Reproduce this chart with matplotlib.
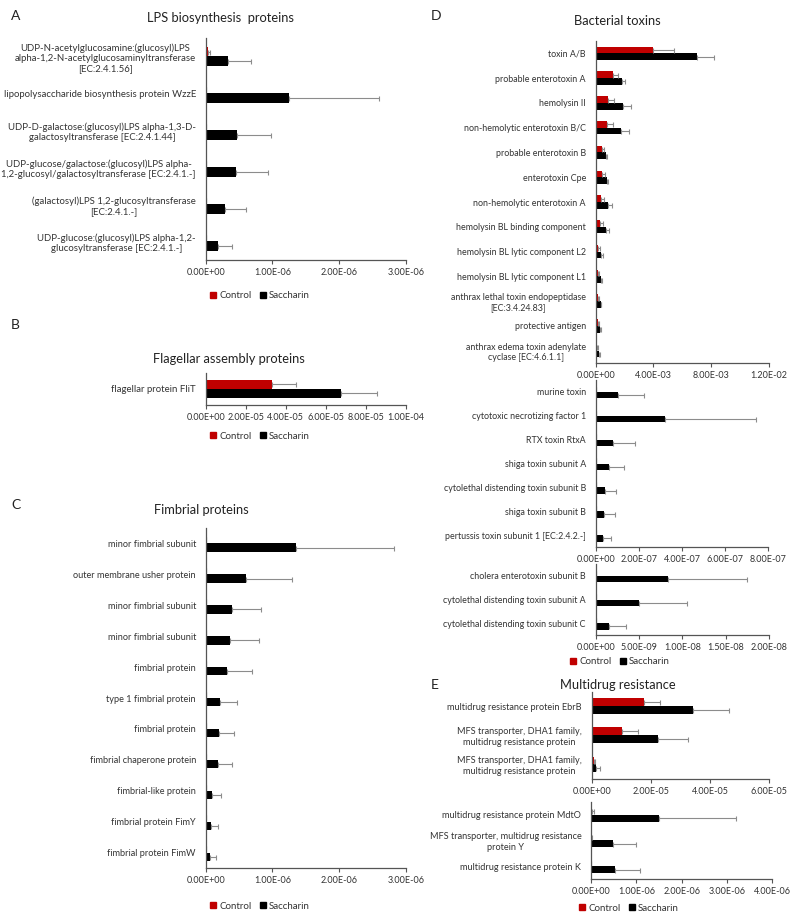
import matplotlib.pyplot as plt
from matplotlib.ticker import FuncFormatter
from matplotlib.patches import Patch
import numpy as np

plt.rcParams['font.family'] = ['Lato', 'DejaVu Sans']

# ---- data ----
lps_labels = [
    "UDP-N-acetylglucosamine:(glucosyl)LPS\nalpha-1,2-N-acetylglucosaminyltransferase\n[EC:2.4.1.56]",
    "lipopolysaccharide biosynthesis protein WzzE",
    "UDP-D-galactose:(glucosyl)LPS alpha-1,3-D-\ngalactosyltransferase [EC:2.4.1.44]",
    "UDP-glucose/galactose:(glucosyl)LPS alpha-\n1,2-glucosyl/galactosyltransferase [EC:2.4.1.-]",
    "(galactosyl)LPS 1,2-glucosyltransferase\n[EC:2.4.1.-]",
    "UDP-glucose:(glucosyl)LPS alpha-1,2-\nglucosyltransferase [EC:2.4.1.-]",
]
lps_ctrl = [0.04e-6, 0, 0, 0, 0, 0]
lps_ctrl_err = [0.02e-6, 0, 0, 0, 0, 0]
lps_sac = [0.33e-6, 1.25e-6, 0.47e-6, 0.45e-6, 0.29e-6, 0.19e-6]
lps_sac_err = [0.35e-6, 1.35e-6, 0.51e-6, 0.48e-6, 0.31e-6, 0.21e-6]

fla_labels = ["flagellar protein FliT"]
fla_ctrl = [3.3e-5]
fla_ctrl_err = [1.2e-5]
fla_sac = [6.75e-5]
fla_sac_err = [1.82e-5]

fim_labels = [
    "minor fimbrial subunit", "outer membrane usher protein", "minor fimbrial subunit",
    "minor fimbrial subunit", "fimbrial protein", "type 1 fimbrial protein",
    "fimbrial protein", "fimbrial chaperone protein", "fimbrial-like protein",
    "fimbrial protein FimY", "fimbrial protein FimW",
]
fim_ctrl = [0] * 11
fim_ctrl_err = [0] * 11
fim_sac = [1.35e-6, 0.61e-6, 0.40e-6, 0.37e-6, 0.32e-6, 0.22e-6, 0.20e-6, 0.18e-6, 0.10e-6, 0.08e-6, 0.06e-6]
fim_sac_err = [1.47e-6, 0.68e-6, 0.43e-6, 0.43e-6, 0.37e-6, 0.25e-6, 0.23e-6, 0.22e-6, 0.13e-6, 0.10e-6, 0.09e-6]

tox1_labels = [
    "toxin A/B", "probable enterotoxin A", "hemolysin II", "non-hemolytic enterotoxin B/C",
    "probable enterotoxin B", "enterotoxin Cpe", "non-hemolytic enterotoxin A",
    "hemolysin BL binding component", "hemolysin BL lytic component L2",
    "hemolysin BL lytic component L1", "anthrax lethal toxin endopeptidase\n[EC:3.4.24.83]",
    "protective antigen", "anthrax edema toxin adenylate\ncyclase [EC:4.6.1.1]",
]
tox1_ctrl = [3.95e-3, 1.18e-3, 0.83e-3, 0.76e-3, 0.42e-3, 0.44e-3, 0.37e-3, 0.30e-3, 0.18e-3, 0.14e-3, 0.16e-3, 0.14e-3, 0.10e-3]
tox1_ctrl_err = [1.48e-3, 0.39e-3, 0.46e-3, 0.46e-3, 0.16e-3, 0.21e-3, 0.18e-3, 0.18e-3, 0.10e-3, 0.09e-3, 0.06e-3, 0.06e-3, 0.04e-3]
tox1_sac = [7.02e-3, 1.82e-3, 1.87e-3, 1.73e-3, 0.71e-3, 0.76e-3, 0.83e-3, 0.69e-3, 0.37e-3, 0.35e-3, 0.35e-3, 0.30e-3, 0.25e-3]
tox1_sac_err = [1.18e-3, 0.21e-3, 0.56e-3, 0.56e-3, 0.09e-3, 0.09e-3, 0.28e-3, 0.23e-3, 0.11e-3, 0.09e-3, 0.05e-3, 0.05e-3, 0.05e-3]

tox2_labels = [
    "murine toxin", "cytotoxic necrotizing factor 1", "RTX toxin RtxA", "shiga toxin subunit A",
    "cytolethal distending toxin subunit B", "shiga toxin subunit B",
    "pertussis toxin subunit 1 [EC:2.4.2.-]",
]
tox2_ctrl = [0] * 7
tox2_ctrl_err = [0] * 7
tox2_sac = [1.05e-7, 3.21e-7, 0.82e-7, 0.62e-7, 0.43e-7, 0.40e-7, 0.32e-7]
tox2_sac_err = [1.20e-7, 4.21e-7, 1.00e-7, 0.70e-7, 0.51e-7, 0.49e-7, 0.40e-7]

tox3_labels = [
    "cholera enterotoxin subunit B", "cytolethal distending toxin subunit A",
    "cytolethal distending toxin subunit C",
]
tox3_ctrl = [0] * 3
tox3_ctrl_err = [0] * 3
tox3_sac = [8.35e-9, 5.03e-9, 1.57e-9]
tox3_sac_err = [9.15e-9, 5.47e-9, 1.89e-9]

mdr1_labels = [
    "multidrug resistance protein EbrB",
    "MFS transporter, DHA1 family,\nmultidrug resistance protein",
    "MFS transporter, DHA1 family,\nmultidrug resistance protein",
]
mdr1_ctrl = [1.77e-5, 1.04e-5, 0.08e-5]
mdr1_ctrl_err = [0.54e-5, 0.52e-5, 0.04e-5]
mdr1_sac = [3.44e-5, 2.25e-5, 0.15e-5]
mdr1_sac_err = [1.22e-5, 1.00e-5, 0.13e-5]

mdr2_labels = [
    "multidrug resistance protein MdtO",
    "MFS transporter, multidrug resistance\nprotein Y",
    "multidrug resistance protein K",
]
mdr2_ctrl = [0.03e-6, 0.01e-6, 0]
mdr2_ctrl_err = [0.04e-6, 0.005e-6, 0]
mdr2_sac = [1.50e-6, 0.48e-6, 0.53e-6]
mdr2_sac_err = [1.71e-6, 0.52e-6, 0.55e-6]

RED = '#C00000'
GREY = '#8c8c8c'
TXT = '#333333'
W, H = 800, 921

fig = plt.figure(figsize=(8, 9.21), dpi=100)


def box(x0, x1, ytop, ybot):
    return [x0 / W, 1 - ybot / H, (x1 - x0) / W, (ybot - ytop) / H]


def panel(rect, labels, ctrl, ctrl_err, sac, sac_err, xmax, ticks, lsize):
    ax = fig.add_axes(rect)
    y = np.arange(len(labels))
    h = 0.27
    ekw = dict(ecolor=GREY, elinewidth=0.8, capsize=1.8, capthick=0.8)
    ax.barh(y - h / 2, ctrl, height=h, color=RED,
            xerr=[np.zeros(len(y)), ctrl_err], error_kw=ekw)
    ax.barh(y + h / 2, sac, height=h, color='black',
            xerr=[np.zeros(len(y)), sac_err], error_kw=ekw)
    ax.set_ylim(len(labels) - 0.5, -0.5)
    ax.set_xlim(0, xmax)
    ax.set_xticks(ticks)
    ax.xaxis.set_major_formatter(FuncFormatter(lambda v, p: f"{v:.2E}"))
    ax.set_yticks(y)
    ax.set_yticklabels(labels, multialignment='center')
    ax.tick_params(axis='y', length=0, pad=7, labelsize=lsize, labelcolor=TXT)
    ax.tick_params(axis='x', length=3, width=0.8, color='#555555', pad=3,
                   labelsize=6.5, labelcolor=TXT)
    for s in ['top', 'right']:
        ax.spines[s].set_visible(False)
    for s in ['left', 'bottom']:
        ax.spines[s].set_color('#555555')
        ax.spines[s].set_linewidth(0.9)
    return ax


def legend(xc, yc):
    handles = [Patch(color=RED, label='Control'), Patch(color='black', label='Saccharin')]
    fig.legend(handles=handles, loc='center', bbox_to_anchor=(xc / W, 1 - yc / H),
               ncol=2, frameon=False, fontsize=7.0, handlelength=0.6, handleheight=0.6,
               handletextpad=0.3, columnspacing=0.9, labelcolor=TXT)


def title(xc, yc, text):
    fig.text(xc / W, 1 - yc / H, text, ha='center', va='center', fontsize=9.3, color='#222222')


def letter(x, yc, text):
    fig.text(x / W, 1 - yc / H, text, ha='left', va='center', fontsize=10, color='#222222')


# A
panel(box(205.7, 406, 38, 260), lps_labels, lps_ctrl, lps_ctrl_err, lps_sac, lps_sac_err,
      3e-6, [0, 1e-6, 2e-6, 3e-6], 6.9)
title(220, 18, "LPS biosynthesis  proteins")
letter(11, 16, "A")
legend(260, 296)

# B
panel(box(205.7, 406, 372.7, 405), fla_labels, fla_ctrl, fla_ctrl_err, fla_sac, fla_sac_err,
      1e-4, [0, 2e-5, 4e-5, 6e-5, 8e-5, 1e-4], 6.9)
title(229, 359, "Flagellar assembly proteins")
letter(11, 325, "B")
legend(260, 436)

# C
panel(box(205.7, 406, 528, 868), fim_labels, fim_ctrl, fim_ctrl_err, fim_sac, fim_sac_err,
      3e-6, [0, 1e-6, 2e-6, 3e-6], 6.6)
title(201, 510, "Fimbrial proteins")
letter(11, 505, "C")
legend(260, 906)

# D
panel(box(595.7, 768.7, 41, 363), tox1_labels, tox1_ctrl, tox1_ctrl_err, tox1_sac, tox1_sac_err,
      1.2e-2, [0, 4e-3, 8e-3, 1.2e-2], 6.4)
panel(box(595.7, 768.3, 380, 547), tox2_labels, tox2_ctrl, tox2_ctrl_err, tox2_sac, tox2_sac_err,
      8e-7, [0, 2e-7, 4e-7, 6e-7, 8e-7], 6.4)
panel(box(595.7, 769, 564, 635), tox3_labels, tox3_ctrl, tox3_ctrl_err, tox3_sac, tox3_sac_err,
      2e-8, [0, 5e-9, 1e-8, 1.5e-8, 2e-8], 6.4)
title(617.7, 21, "Bacterial toxins")
letter(431, 16, "D")
legend(620, 662)

# E
panel(box(591.7, 769, 691.7, 779), mdr1_labels, mdr1_ctrl, mdr1_ctrl_err, mdr1_sac, mdr1_sac_err,
      6e-5, [0, 2e-5, 4e-5, 6e-5], 6.6)
panel(box(591, 772.3, 801.7, 879), mdr2_labels, mdr2_ctrl, mdr2_ctrl_err, mdr2_sac, mdr2_sac_err,
      4e-6, [0, 1e-6, 2e-6, 3e-6, 4e-6], 6.6)
title(617.7, 685, "Multidrug resistance")
letter(431, 685, "E")
legend(629, 908)

fig.savefig("out.png", dpi=100, facecolor='white')
